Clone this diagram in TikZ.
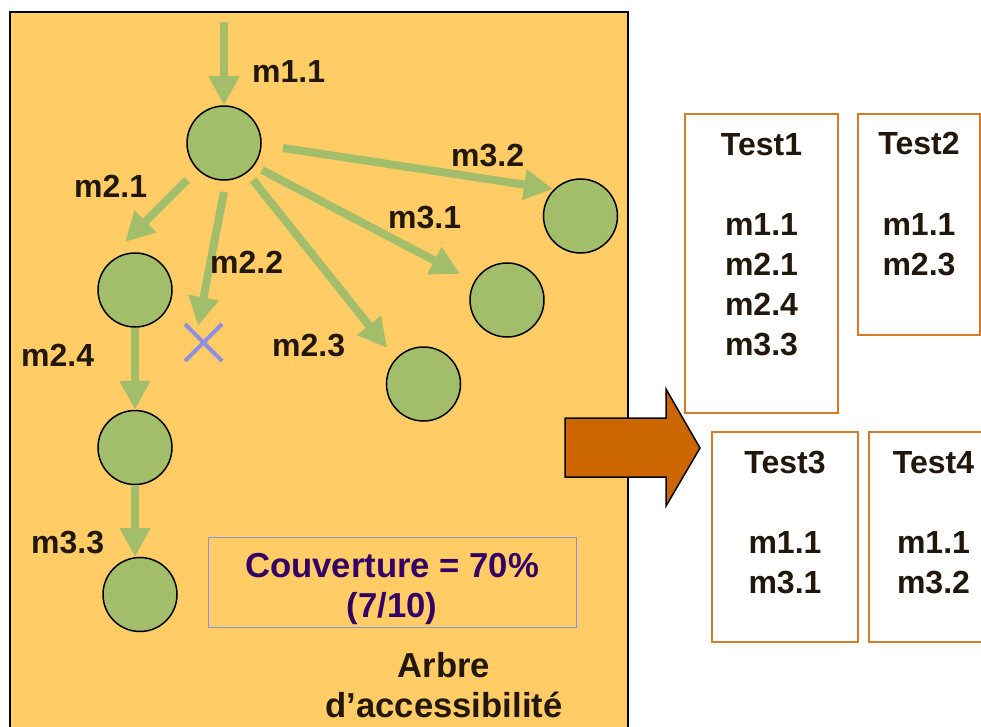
\documentclass[tikz,border=0pt]{standalone}
\usepackage{fontspec}
\setmainfont{Liberation Sans}
\usetikzlibrary{arrows.meta,shapes.misc}
\definecolor{panel}{HTML}{FFCC66}
\definecolor{leaf}{HTML}{A2BE6B}
\definecolor{ink}{HTML}{22170B}
\definecolor{boxline}{HTML}{D47B2C}
\definecolor{bigarrow}{HTML}{CC6600}
\definecolor{lilac}{HTML}{9090E0}
\definecolor{covink}{HTML}{330066}

\begin{document}
\begin{tikzpicture}[x=1pt,y=-1pt,
  state/.style={circle,draw=black,line width=1.5pt,fill=leaf,minimum size=74pt,inner sep=0pt},
  trans/.style={draw=leaf,line width=8pt,-{Triangle[length=29pt,width=29pt]}},
  lbl/.style={anchor=base west,text=ink,font=\fontsize{32}{40}\selectfont\bfseries,inner sep=0pt},
  testbox/.style={draw=boxline,line width=1.5pt,fill=white,inner sep=0pt},
  testtxt/.style={anchor=base,align=center,text=ink,font=\fontsize{32}{40}\selectfont\bfseries,inner sep=0pt},
  bigtxt/.style={anchor=base,align=center,font=\fontsize{34.67}{40}\selectfont\bfseries,inner sep=0pt},
]
\useasboundingbox (0,0) rectangle (981,727);
\clip (0,0) rectangle (981,727);
\fill[white] (0,0) rectangle (981,727);

% reachability tree panel
\draw[fill=panel,line width=1.5pt] (10,12) rectangle (628,745);

% states
\node[state] (root) at (224,143) {};
\node[state] (c21) at (135,290) {};
\node[state] (c24) at (135,447.5) {};
\node[state] (c33) at (140,594.5) {};
\node[state] (c23) at (423.5,384) {};
\node[state] (c31) at (507,300) {};
\node[state] (c32) at (580.5,216) {};
\node[cross out,draw=lilac,line width=4pt,minimum size=33pt,inner sep=0pt] (x22) at (203.5,342.5) {};
\coordinate (entry) at (224,22);

% transitions
\draw[trans] (entry) -- (root.north);
\draw[trans] ([shift={(-37,37)}]root.center) -- ([shift={(-10,-48)}]c21.center);
\draw[trans] ([shift={(0,49)}]root.center) -- ([shift={(-5.5,-16.5)}]x22.center);
\draw[trans] ([shift={(29,37)}]root.center) -- ([shift={(-36.5,-36)}]c23.center);
\draw[trans] ([shift={(38,27)}]root.center) -- ([shift={(-47,-26)}]c31.center);
\draw[trans] ([shift={(59,5)}]root.center) -- ([shift={(-27.5,-27)}]c32.center);
\draw[trans] (c21.south) -- (c24.north);
\draw[trans] (c24.south) -- ([shift={(-5,-37.5)}]c33.center);

% transition labels
\node[lbl] (l11) at (252,83) {m1.1};
\node[lbl] (l21) at (74,198) {m2.1};
\node[lbl] (l22) at (210,273) {m2.2};
\node[lbl] (l24) at (21,366) {m2.4};
\node[lbl] (l23) at (272,356) {m2.3};
\node[lbl] (l31) at (388,229) {m3.1};
\node[lbl] (l32) at (451,167) {m3.2};
\node[lbl] (l33) at (31,553) {m3.3};

% coverage (anchors sit on the baseline of the last line)
\node[draw=lilac,line width=1pt,minimum width=368pt,minimum height=90pt,inner sep=0pt] (cov) at (392,582) {};
\node[bigtxt,text=covink] (covtxt) at (392,617) {Couverture = 70\%\\(7/10)};
\node[bigtxt,text=ink] (title) at (444,717) {Arbre\\d’accessibilité};

% big arrow towards the test set
\draw[fill=bigarrow,line width=1.5pt,line join=miter] (565,418) -- (666,418) -- (666,389) -- (700,448) -- (666,506) -- (666,477) -- (565,477) -- cycle;

% tests
\node[testbox,minimum width=153pt,minimum height=299pt] (t1) at (761.5,263.5) {};
\node[testbox,minimum width=122pt,minimum height=221pt] (t2) at (919,224.5) {};
\node[testbox,minimum width=146pt,minimum height=210pt] (t3) at (785,537) {};
\node[testbox,minimum width=129pt,minimum height=210pt] (t4) at (933.5,537) {};
\node[testtxt] (t1txt) at (761.5,355) {Test1\\[40pt]m1.1\\m2.1\\m2.4\\m3.3};
\node[testtxt] (t2txt) at (919,275) {Test2\\[40pt]m1.1\\m2.3};
\node[testtxt] (t3txt) at (785,593) {Test3\\[40pt]m1.1\\m3.1};
\node[testtxt] (t4txt) at (933.5,593) {Test4\\[40pt]m1.1\\m3.2};
\end{tikzpicture}
\end{document}
